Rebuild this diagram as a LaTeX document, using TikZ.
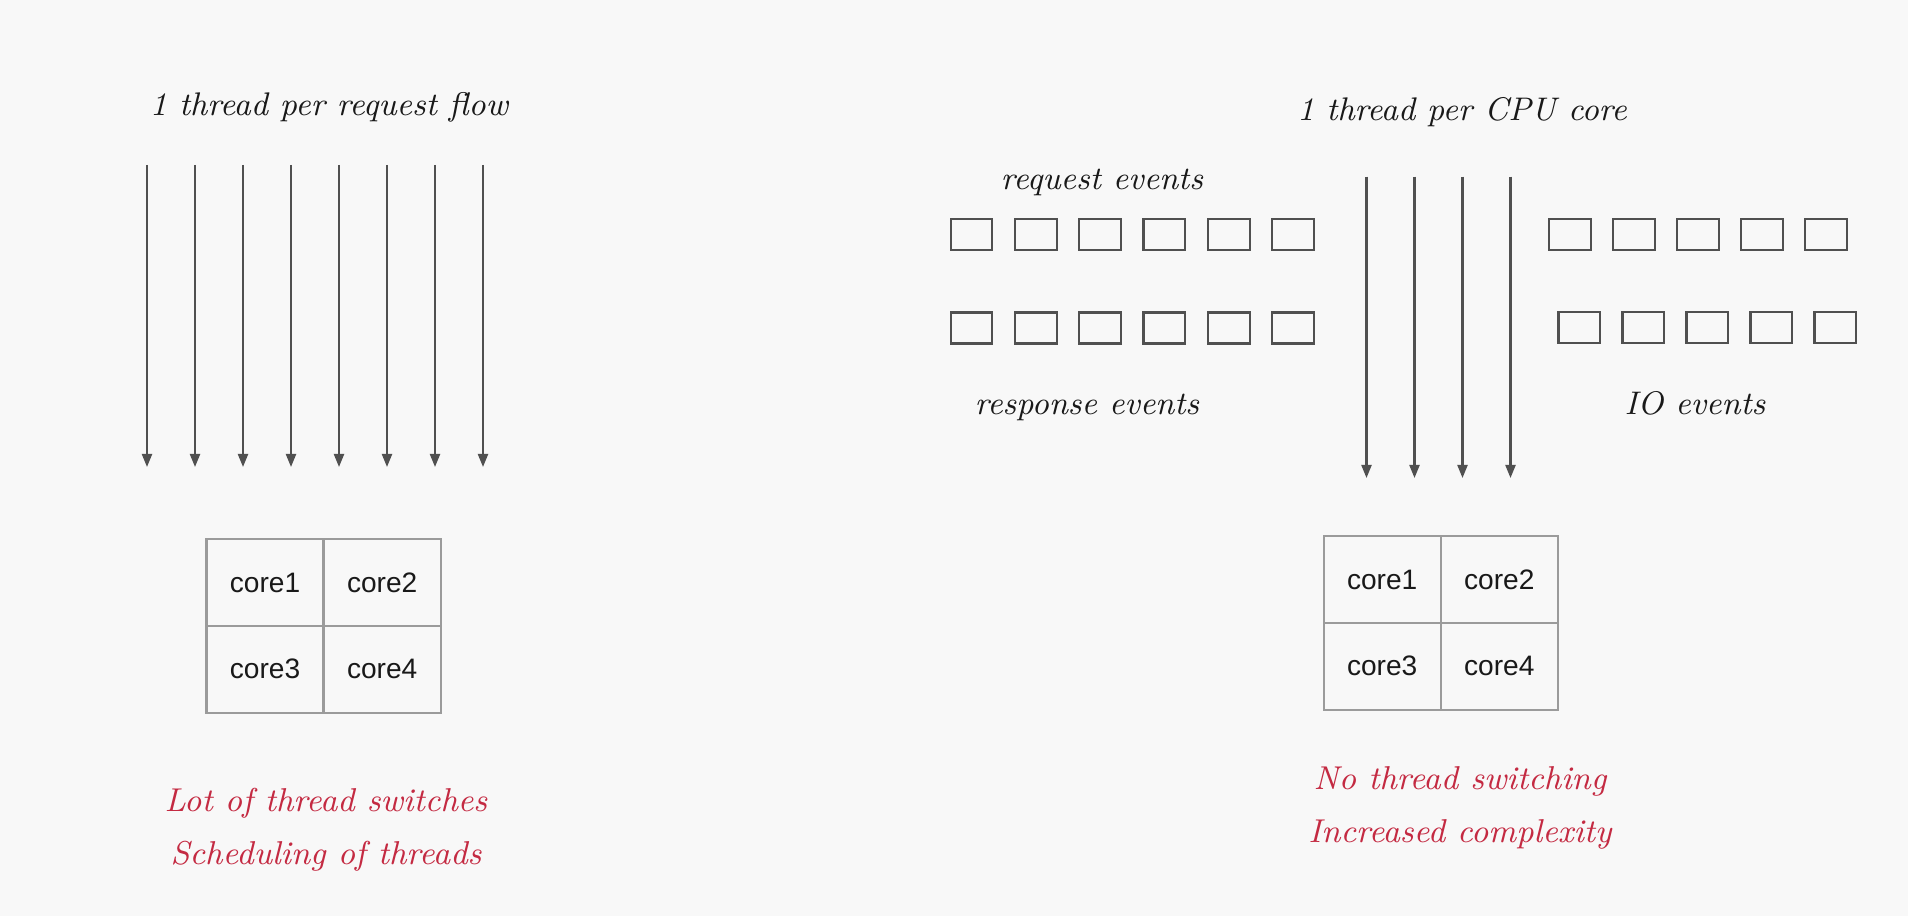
\documentclass[tikz,border=0pt]{standalone}
\usepackage{fontspec}
\newfontfamily\corefont{Liberation Sans}
\definecolor{bggray}{RGB}{248,248,248}
\definecolor{ink}{RGB}{25,25,25}
\definecolor{arrgray}{RGB}{80,80,80}
\definecolor{gridgray}{RGB}{155,155,155}
\definecolor{notered}{RGB}{196,42,66}
\usetikzlibrary{arrows.meta,positioning}

\begin{document}
\begin{tikzpicture}[
  x=0.01cm,y=-0.01cm,
  hand/.style={font=\fontsize{9.3}{13}\selectfont\itshape,text=ink,inner sep=0pt},
  note/.style={font=\fontsize{9.4}{15.2}\selectfont\itshape,text=notered,align=center,inner sep=0pt},
  thr/.style={-{Triangle[length=1.3mm,width=1mm]},line width=0.6pt,arrgray},
  evt/.style={draw=arrgray,line width=0.6pt,inner sep=0pt,minimum width=0.417cm,minimum height=0.31cm},
  cell/.style={draw=gridgray,line width=0.6pt,minimum width=1.17cm,minimum height=0.87cm,
    inner sep=0pt,font=\corefont\fontsize{8}{10}\selectfont,text=ink}
]
  \useasboundingbox[fill=bggray] (0,0) rectangle (1908,916);

  % Thread per request (left)
  \node[hand] (ltitle) at (329,107) {1 thread per request flow};
  \foreach \i in {0,...,7} {
    \coordinate (lt\i) at (147+48*\i,165);
    \coordinate (lb\i) at (147+48*\i,467);
    \draw[thr] (lt\i) -- (lb\i);
  }
  \node[cell] (lc1) at (265,582.7) {core1};
  \node[cell] (lc2) at (382.2,582.7) {core2};
  \node[cell] (lc3) at (265,669.3) {core3};
  \node[cell] (lc4) at (382.2,669.3) {core4};
  \node[note] (lnote) at (326,830) {Lot of thread switches\\Scheduling of threads};

  % Thread per CPU core (right)
  \node[hand] (rtitle) at (1462,112) {1 thread per CPU core};
  \foreach \i in {0,...,3} {
    \coordinate (rt\i) at (1366.5+48*\i,176.7);
    \coordinate (rb\i) at (1366.5+48*\i,478);
    \draw[thr] (rt\i) -- (rb\i);
  }
  % Event queues
  \node[hand] (reqlbl) at (1102,182) {request events};
  \foreach \i in {0,...,5} {
    \node[evt] (req\i) at (971.5+64.3*\i,234.7) {};
    \node[evt] (resp\i) at (971.5+64.3*\i,328) {};
  }
  \node[hand] (resplbl) at (1087,407) {response events};
  \foreach \i in {0,...,4} {
    \node[evt] (ioa\i) at (1569.8+64*\i,234.8) {};
    \node[evt] (iob\i) at (1579.3+64*\i,327.8) {};
  }
  \node[hand] (iolbl) at (1695,403) {IO events};
  \node[cell] (rc1) at (1382.2,579.5) {core1};
  \node[cell] (rc2) at (1499.3,579.5) {core2};
  \node[cell] (rc3) at (1382.2,666.3) {core3};
  \node[cell] (rc4) at (1499.3,666.3) {core4};
  \node[note] (rnote) at (1460,808) {No thread switching\\Increased complexity};
\end{tikzpicture}
\end{document}
